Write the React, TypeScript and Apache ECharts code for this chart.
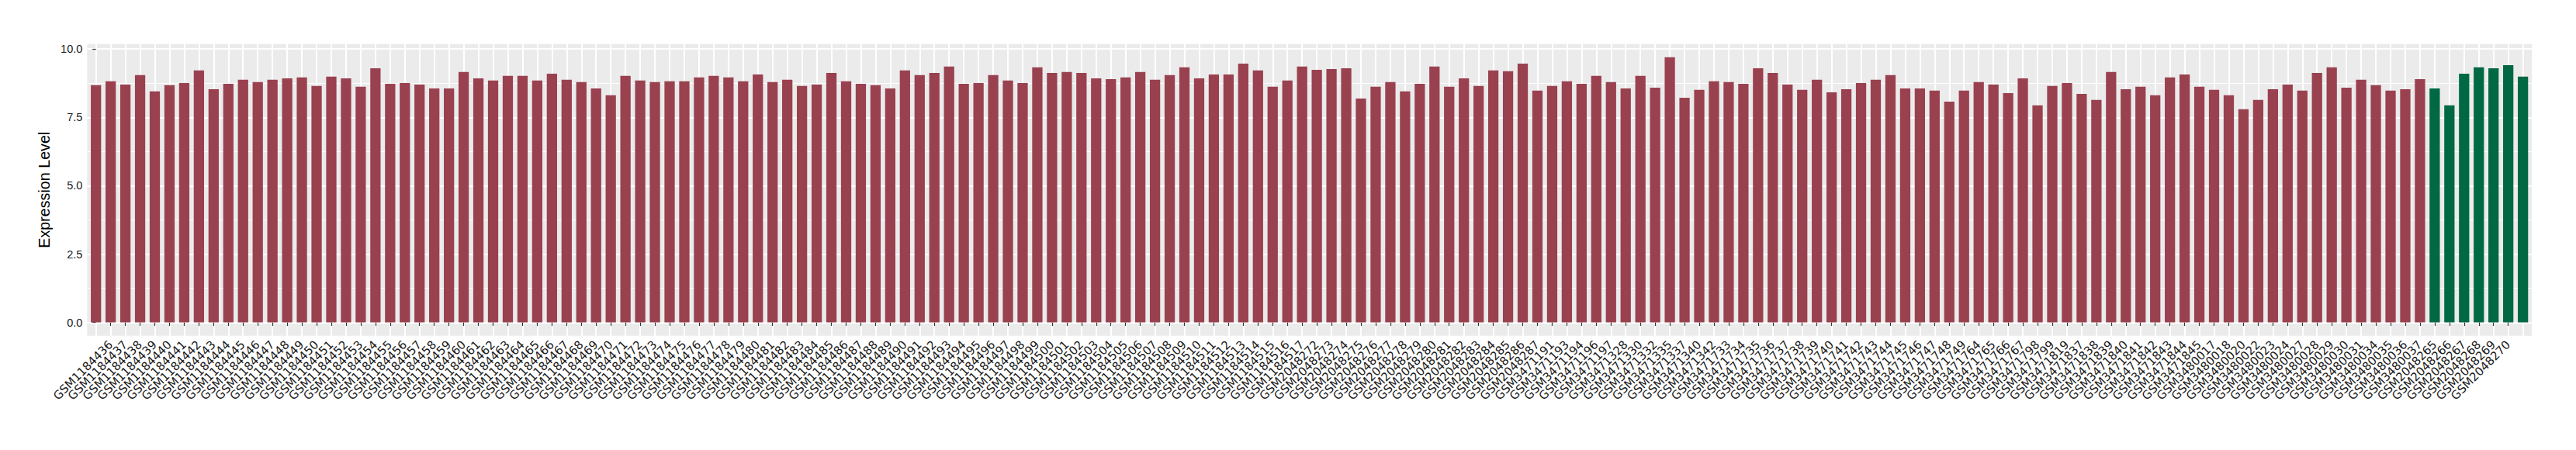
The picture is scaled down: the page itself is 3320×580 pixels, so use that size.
import React, { useEffect, useRef } from "react";
import * as echarts from "echarts";

// ---- categories (sample IDs), in plot order ----
const samplesA = [
  "GSM1184435", "GSM1184436", "GSM1184437", "GSM1184438", "GSM1184439", "GSM1184440", "GSM1184441", "GSM1184442",
  "GSM1184443", "GSM1184444", "GSM1184445", "GSM1184446", "GSM1184447", "GSM1184448", "GSM1184449", "GSM1184450",
  "GSM1184451", "GSM1184452", "GSM1184453", "GSM1184454", "GSM1184455", "GSM1184456", "GSM1184457", "GSM1184458",
  "GSM1184459", "GSM1184460", "GSM1184461", "GSM1184462", "GSM1184463", "GSM1184464", "GSM1184465", "GSM1184466",
  "GSM1184467", "GSM1184468", "GSM1184469", "GSM1184470", "GSM1184471", "GSM1184472", "GSM1184473", "GSM1184474",
  "GSM1184475", "GSM1184476", "GSM1184477", "GSM1184478", "GSM1184479", "GSM1184480", "GSM1184481", "GSM1184482",
  "GSM1184483", "GSM1184484", "GSM1184485", "GSM1184486", "GSM1184487", "GSM1184488", "GSM1184489", "GSM1184490",
  "GSM1184491", "GSM1184492", "GSM1184493", "GSM1184494", "GSM1184495", "GSM1184496", "GSM1184497", "GSM1184498",
  "GSM1184499", "GSM1184500", "GSM1184501", "GSM1184502", "GSM1184503", "GSM1184504", "GSM1184505", "GSM1184506",
  "GSM1184507", "GSM1184508", "GSM1184509", "GSM1184510", "GSM1184511", "GSM1184512", "GSM1184513", "GSM1184514",
  "GSM1184515", "GSM1184516", "GSM1184517",
];
const samplesB = [
  "GSM2048272", "GSM2048273", "GSM2048274", "GSM2048275", "GSM2048276", "GSM2048277", "GSM2048278", "GSM2048279",
  "GSM2048280", "GSM2048281", "GSM2048282", "GSM2048283", "GSM2048284", "GSM2048285", "GSM2048286", "GSM2048287",
];
const samplesC = [
  "GSM3471191", "GSM3471193", "GSM3471194", "GSM3471196", "GSM3471197", "GSM3471328", "GSM3471330", "GSM3471332",
  "GSM3471335", "GSM3471337", "GSM3471340", "GSM3471342", "GSM3471733", "GSM3471734", "GSM3471735", "GSM3471736",
  "GSM3471737", "GSM3471738", "GSM3471739", "GSM3471740", "GSM3471741", "GSM3471742", "GSM3471743", "GSM3471744",
  "GSM3471745", "GSM3471746", "GSM3471747", "GSM3471748", "GSM3471749", "GSM3471764", "GSM3471765", "GSM3471766",
  "GSM3471767", "GSM3471798", "GSM3471799", "GSM3471819", "GSM3471837", "GSM3471838", "GSM3471839", "GSM3471840",
  "GSM3471841", "GSM3471842", "GSM3471843", "GSM3471844", "GSM3471845",
];
const samplesD = [
  "GSM3480017", "GSM3480018", "GSM3480020", "GSM3480022", "GSM3480023", "GSM3480024", "GSM3480027", "GSM3480028",
  "GSM3480029", "GSM3480030", "GSM3480031", "GSM3480034", "GSM3480035", "GSM3480036", "GSM3480037",
];
const samplesGreen = [
  "GSM2048265", "GSM2048266", "GSM2048267", "GSM2048268", "GSM2048269", "GSM2048270", "GSM2048271",
];

// ---- expression values ----
const valuesA = [
  8.68, 8.82, 8.70, 9.05, 8.45, 8.68, 8.76, 9.22, 8.53, 8.73, 8.88, 8.79, 8.88, 8.93, 8.96, 8.65,
  8.99, 8.93, 8.62, 9.30, 8.73, 8.76, 8.70, 8.56, 8.56, 9.16, 8.93, 8.85, 9.02, 9.02, 8.85, 9.10,
  8.88, 8.79, 8.56, 8.31, 9.02, 8.85, 8.79, 8.82, 8.82, 8.96, 9.02, 8.96, 8.82, 9.07, 8.79, 8.88,
  8.65, 8.70, 9.13, 8.82, 8.73, 8.68, 8.56, 9.22, 9.05, 9.13, 9.36, 8.73, 8.76, 9.05, 8.85, 8.76,
  9.33, 9.13, 9.16, 9.13, 8.93, 8.90, 8.96, 9.16, 8.88, 9.05, 9.33, 8.93, 9.07, 9.07, 9.47, 9.22,
  8.62, 8.85, 9.36,
];
const valuesB = [
  9.24, 9.27, 9.30, 8.19, 8.62, 8.79, 8.45, 8.73, 9.36, 8.62, 8.93, 8.65, 9.22, 9.19, 9.47, 8.48,
];
const valuesC = [
  8.65, 8.82, 8.73, 9.02, 8.79, 8.56, 9.02, 8.59, 9.70, 8.22, 8.51, 8.82, 8.79, 8.73, 9.30, 9.13,
  8.70, 8.51, 8.88, 8.42, 8.53, 8.76, 8.88, 9.05, 8.56, 8.56, 8.48, 8.08, 8.48, 8.79, 8.70, 8.39,
  8.93, 7.94, 8.65, 8.76, 8.36, 8.14, 9.16, 8.53, 8.62, 8.31, 8.96, 9.07, 8.62,
];
const valuesD = [
  8.51, 8.31, 7.80, 8.14, 8.53, 8.70, 8.48, 9.13, 9.33, 8.59, 8.88, 8.68, 8.48, 8.53, 8.90,
];
const valuesGreen = [8.56, 7.94, 9.10, 9.33, 9.30, 9.41, 8.99];

const yTicks = [0, 2.5, 5, 7.5, 10];
const yMinorTicks = [1.25, 3.75, 6.25, 8.75];

const RED = "#9A4150";
const GREEN = "#006944";

export default function App() {
  const ref = useRef<HTMLDivElement>(null);

  useEffect(() => {
    if (!ref.current) return;
    const chart = echarts.init(ref.current, null, { renderer: "svg" });

    const redNames = [...samplesA, ...samplesB, ...samplesC, ...samplesD];
    const redValues = [...valuesA, ...valuesB, ...valuesC, ...valuesD];
    const categories = [...redNames, ...samplesGreen];
    const allValues = [...redValues, ...valuesGreen];
    const n = categories.length;
    const idx = categories.map((_, i) => i);

    const data = allValues.map((v, i) => ({
      value: [i, v],
      itemStyle: { color: i < redNames.length ? RED : GREEN },
    }));

    const vmax = Math.max(...allValues);
    const yLo = -0.05 * vmax;
    const yHi = vmax * 1.05;

    const option: any = {
      animation: false,
      backgroundColor: "#ffffff",
      grid: {
        left: 112.3,
        right: 57,
        top: 56.7,
        bottom: 147.3,
        show: true,
        backgroundColor: "#EBEBEB",
        borderWidth: 0,
      },
      xAxis: {
        type: "value",
        min: -0.6,
        max: n - 1 + 0.6,
        axisLine: { show: false },
        axisTick: {
          show: true,
          customValues: idx,
          length: 4.5,
          lineStyle: { color: "#333333", width: 1.2 },
        },
        axisLabel: {
          customValues: idx,
          rotate: 45,
          margin: 9,
          color: "#1A1A1A",
          fontSize: 15,
          fontFamily: "DejaVu Sans",
          hideOverlap: false,
          formatter: (v: number) => categories[Math.round(v)] ?? "",
        },
        splitLine: { show: true, lineStyle: { color: "#FFFFFF", width: 2 } },
      },
      yAxis: {
        type: "value",
        min: yLo,
        max: yHi,
        name: "Expression Level",
        nameLocation: "middle",
        nameGap: 22,
        nameTextStyle: { fontSize: 19.7, color: "#000000", fontFamily: "Liberation Sans" },
        axisLine: { show: false },
        axisTick: {
          show: true,
          customValues: yTicks,
          length: 4.5,
          lineStyle: { color: "#333333", width: 1.2 },
        },
        axisLabel: {
          customValues: yTicks,
          margin: 6,
          color: "#1A1A1A",
          fontSize: 14.5,
          fontFamily: "Liberation Sans",
          formatter: (v: number) => v.toFixed(1),
        },
        splitLine: { show: true, lineStyle: { color: "#FFFFFF", width: 2 } },
      },
      series: [
        {
          type: "bar",
          data,
          barWidth: "70%",
          z: 3,
          markLine: {
            silent: true,
            symbol: ["none", "none"],
            z: 1,
            label: { show: false },
            lineStyle: { color: "#FFFFFF", width: 1, type: "solid" },
            data: yMinorTicks.map((y) => ({ yAxis: y })),
          },
        },
      ],
    };

    chart.setOption(option);
    return () => chart.dispose();
  }, []);

  return (
    <div
      ref={ref}
      style={{ position: "fixed", left: 0, top: 0, width: 3320, height: 580, background: "#fff" }}
    />
  );
}
